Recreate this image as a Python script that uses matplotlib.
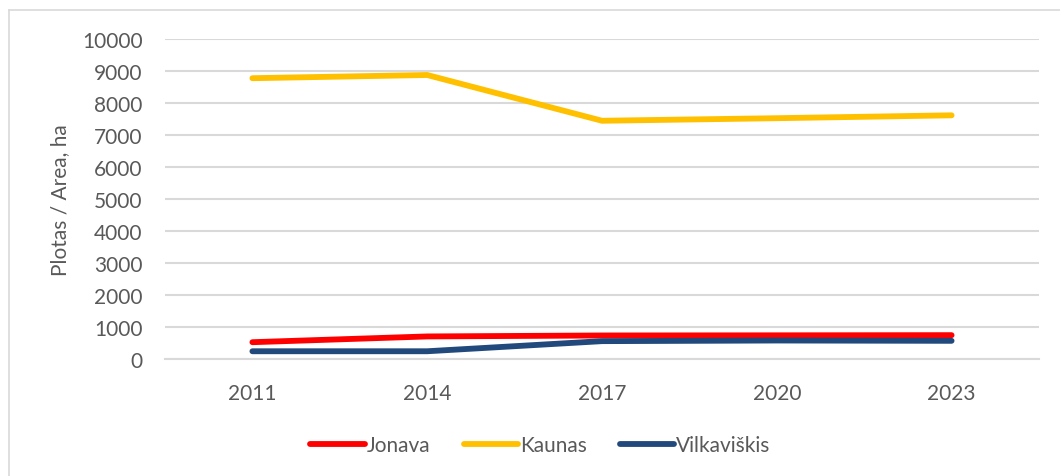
import matplotlib.pyplot as plt
from matplotlib.lines import Line2D

plt.rcParams['font.family'] = ['Lato', 'DejaVu Sans']

years = ['2011', '2014', '2017', '2020', '2023']
jonava = [525, 705, 735, 740, 745]
kaunas = [8775, 8875, 7445, 7525, 7615]
vilkaviskis = [242, 242, 558, 578, 568]

series = [('Jonava', jonava, '#FF0000'),
          ('Kaunas', kaunas, '#FFC000'),
          ('Vilkaviškis', vilkaviskis, '#21497C')]

text_c = '#595959'
grid_c = '#D9D9D9'

fig = plt.figure(figsize=(10.6, 4.77), dpi=100)
ax = fig.add_axes([165 / 1060, 1 - 360 / 477, (1039 - 165) / 1060, 320 / 477])

x = range(len(years))
for name, vals, col in series:
    ax.plot(x, vals, color=col, lw=4.2, solid_capstyle='round', solid_joinstyle='round', label=name)

ax.set_xlim(-0.5, len(years) - 0.5)
ax.set_ylim(0, 10000)
ax.set_yticks(range(0, 10001, 1000))
ax.set_xticks(list(x))
ax.set_xticklabels(years)
ax.grid(axis='y', color=grid_c, lw=1.5)
ax.set_axisbelow(True)
for s in ['top', 'right', 'left']:
    ax.spines[s].set_visible(False)
ax.spines['bottom'].set_color(grid_c)
ax.spines['bottom'].set_linewidth(1.5)
ax.tick_params(axis='both', length=0, labelsize=15, colors=text_c)
ax.tick_params(axis='y', pad=16)
ax.tick_params(axis='x', pad=17)
ax.set_ylabel('Plotas / Area, ha', fontsize=15, color=text_c, labelpad=9)

handles = [Line2D([], [], color=c, lw=4.2, solid_capstyle='round') for _, _, c in series]
fig.legend(handles, [n for n, _, _ in series], loc='center', bbox_to_anchor=(0.51, 0.064),
           ncol=3, frameon=False, fontsize=15, handlelength=2.6, handletextpad=0.1,
           columnspacing=1.6, labelcolor=text_c)

# chart area border (top and left visible in crop)
fig.add_artist(Line2D([8.5 / 1060, 8.5 / 1060], [0, 1 - 11 / 477], color=grid_c, lw=1.2))
fig.add_artist(Line2D([8.5 / 1060, 1], [1 - 11 / 477, 1 - 11 / 477], color=grid_c, lw=1.2))

fig.savefig('out.png', dpi=100)
